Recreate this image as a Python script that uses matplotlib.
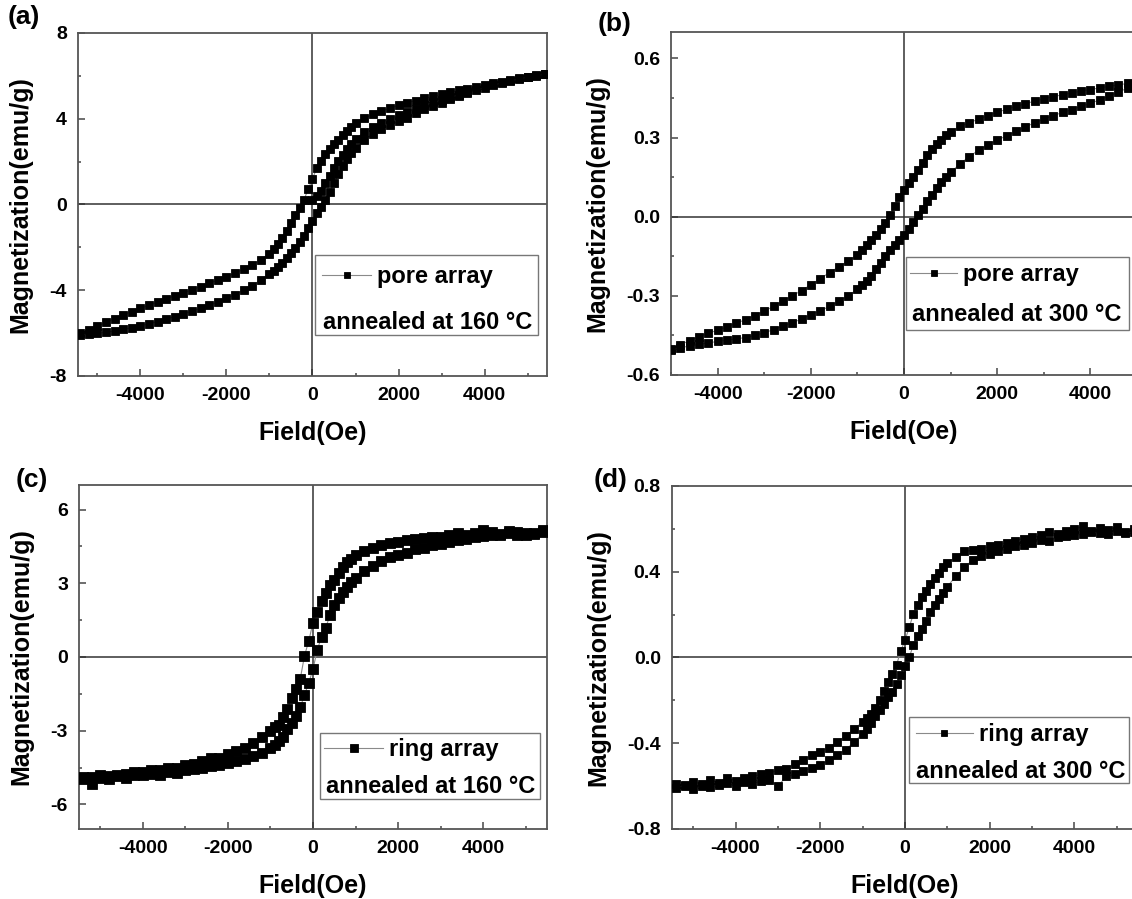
import matplotlib
matplotlib.use('Agg')
import matplotlib.pyplot as plt
from matplotlib.patches import Rectangle
from matplotlib.ticker import MultipleLocator, FormatStrFormatter

plt.rcParams['font.family'] = ['Liberation Sans', 'DejaVu Sans']
plt.rcParams['font.weight'] = 'bold'
plt.rcParams['axes.unicode_minus'] = False

# ---- field sweeps (Oe) ----
field_wide = [-5400, -5200, -5000, -4800, -4600, -4400, -4200, -4000, -3800, -3600,
              -3400, -3200, -3000, -2800, -2600, -2400, -2200, -2000, -1800, -1600,
              -1400, -1200, -1000, -900, -800, -700, -600, -500, -400, -300, -200,
              -100, 0, 100, 200, 300, 400, 500, 600, 700, 800, 900, 1000, 1200, 1400,
              1600, 1800, 2000, 2200, 2400, 2600, 2800, 3000, 3200, 3400, 3600, 3800,
              4000, 4200, 4400, 4600, 4800, 5000, 5200, 5400]
field_narrow = [-5000, -4800, -4600, -4400, -4200, -4000, -3800, -3600, -3400, -3200,
                -3000, -2800, -2600, -2400, -2200, -2000, -1800, -1600, -1400, -1200,
                -1000, -900, -800, -700, -600, -500, -400, -300, -200, -100, 0, 100,
                200, 300, 400, 500, 600, 700, 800, 900, 1000, 1200, 1400, 1600, 1800,
                2000, 2200, 2400, 2600, 2800, 3000, 3200, 3400, 3600, 3800, 4000, 4200,
                4400, 4600, 4800, 5000]
field_virgin_a = [0, 100, 200, 300, 400, 500, 600, 700, 800, 900, 1000, 1200, 1400,
                  1600, 1800, 2000, 2200, 2400, 2600, 2800, 3000, 3200, 3400, 3600]

# ---- (a) pore array, 160 C ----
m_a_down = [-6.00, -5.85, -5.68, -5.50, -5.32, -5.15, -5.00, -4.85, -4.70, -4.55,
            -4.40, -4.26, -4.12, -3.98, -3.83, -3.68, -3.53, -3.38, -3.20, -3.02,
            -2.82, -2.58, -2.30, -2.10, -1.85, -1.55, -1.22, -0.88, -0.50, -0.15,
            0.22, 0.70, 1.20, 1.70, 2.05, 2.35, 2.58, 2.80, 3.02, 3.25, 3.45, 3.62,
            3.78, 4.02, 4.20, 4.36, 4.50, 4.62, 4.74, 4.85, 4.95, 5.04, 5.14, 5.24,
            5.32, 5.41, 5.49, 5.57, 5.65, 5.73, 5.81, 5.89, 5.96, 6.03, 6.10]
m_a_up = [-6.08, -6.05, -6.01, -5.96, -5.90, -5.83, -5.75, -5.66, -5.57, -5.46,
          -5.35, -5.23, -5.10, -4.97, -4.84, -4.70, -4.55, -4.38, -4.20, -4.00,
          -3.78, -3.52, -3.25, -3.10, -2.92, -2.72, -2.50, -2.28, -2.03, -1.75,
          -1.48, -1.12, -0.75, -0.42, -0.12, 0.20, 0.58, 0.98, 1.40, 1.78, 2.10,
          2.38, 2.62, 3.00, 3.28, 3.50, 3.70, 3.88, 4.05, 4.25, 4.45, 4.60, 4.75,
          4.90, 5.05, 5.20, 5.33, 5.45, 5.57, 5.67, 5.77, 5.86, 5.94, 6.01, 6.08]
m_a_virgin = [0.20, 0.40, 0.65, 0.98, 1.35, 1.72, 2.03, 2.33, 2.60, 2.84, 3.05, 3.38,
              3.62, 3.82, 4.00, 4.16, 4.32, 4.47, 4.62, 4.76, 4.88, 5.00, 5.12, 5.24]

# ---- (b) pore array, 300 C ----
m_b_down = [-0.500, -0.485, -0.470, -0.455, -0.442, -0.430, -0.418, -0.404, -0.390,
            -0.375, -0.358, -0.340, -0.320, -0.300, -0.280, -0.258, -0.235, -0.212,
            -0.190, -0.168, -0.145, -0.128, -0.108, -0.088, -0.068, -0.048, -0.025,
            0.005, 0.040, 0.075, 0.102, 0.128, 0.152, 0.178, 0.205, 0.232, 0.256,
            0.276, 0.292, 0.308, 0.322, 0.342, 0.356, 0.370, 0.383, 0.396, 0.407,
            0.418, 0.428, 0.438, 0.447, 0.455, 0.462, 0.469, 0.476, 0.482, 0.488,
            0.494, 0.500, 0.505, 0.510]
m_b_up = [-0.505, -0.497, -0.490, -0.484, -0.478, -0.473, -0.468, -0.463, -0.458,
          -0.450, -0.440, -0.428, -0.415, -0.402, -0.388, -0.372, -0.357, -0.340,
          -0.320, -0.300, -0.275, -0.260, -0.243, -0.223, -0.200, -0.175, -0.150,
          -0.128, -0.108, -0.088, -0.068, -0.045, -0.020, 0.005, 0.030, 0.058, 0.083,
          0.108, 0.130, 0.150, 0.168, 0.200, 0.228, 0.252, 0.272, 0.290, 0.307,
          0.323, 0.340, 0.356, 0.370, 0.383, 0.395, 0.406, 0.418, 0.430, 0.443,
          0.457, 0.472, 0.488, 0.505]

# ---- (c) ring array, 160 C ----
m_c_down = [-4.88, -4.90, -4.82, -4.85, -4.80, -4.75, -4.68, -4.70, -4.62, -4.58,
            -4.52, -4.50, -4.40, -4.35, -4.25, -4.12, -4.10, -3.95, -3.82, -3.70,
            -3.50, -3.25, -3.00, -2.85, -2.75, -2.45, -2.10, -1.65, -1.30, -0.90,
            0.05, 0.65, 1.40, 1.85, 2.29, 2.60, 2.95, 3.15, 3.42, 3.65, 3.85, 4.00,
            4.15, 4.32, 4.45, 4.55, 4.65, 4.70, 4.75, 4.80, 4.85, 4.88, 4.90, 4.95,
            5.05, 4.98, 5.05, 5.15, 5.08, 5.02, 5.12, 5.10, 4.98, 5.05, 5.15]
m_c_up = [-4.95, -5.15, -4.92, -4.95, -4.85, -4.92, -4.80, -4.82, -4.78, -4.80,
          -4.70, -4.72, -4.62, -4.55, -4.50, -4.45, -4.40, -4.30, -4.25, -4.15,
          -4.05, -3.90, -3.72, -3.60, -3.42, -3.25, -2.95, -2.70, -2.40, -2.05,
          -1.55, -1.05, -0.50, 0.30, 0.80, 1.20, 1.70, 2.10, 2.40, 2.65, 2.85, 3.05,
          3.20, 3.50, 3.72, 3.90, 4.05, 4.15, 4.25, 4.38, 4.45, 4.55, 4.60, 4.68,
          4.75, 4.82, 4.88, 4.92, 4.98, 4.95, 5.05, 4.98, 5.05, 5.00, 5.10]

# ---- (d) ring array, 300 C ----
m_d_down = [-0.590, -0.600, -0.580, -0.590, -0.570, -0.585, -0.560, -0.575, -0.560,
            -0.555, -0.545, -0.540, -0.525, -0.520, -0.495, -0.480, -0.455, -0.440,
            -0.420, -0.395, -0.365, -0.335, -0.300, -0.280, -0.265, -0.235, -0.200,
            -0.155, -0.115, -0.075, -0.035, 0.030, 0.080, 0.140, 0.205, 0.245, 0.280,
            0.310, 0.345, 0.370, 0.395, 0.420, 0.440, 0.470, 0.495, 0.500, 0.505,
            0.518, 0.525, 0.535, 0.545, 0.555, 0.560, 0.570, 0.585, 0.575, 0.590,
            0.598, 0.612, 0.590, 0.605, 0.595, 0.610, 0.585, 0.600]
m_d_up = [-0.610, -0.595, -0.615, -0.600, -0.605, -0.595, -0.585, -0.600, -0.580,
          -0.590, -0.575, -0.570, -0.600, -0.555, -0.545, -0.530, -0.515, -0.500,
          -0.480, -0.455, -0.430, -0.395, -0.355, -0.335, -0.305, -0.275, -0.245,
          -0.215, -0.185, -0.160, -0.125, -0.080, -0.040, 0.000, 0.060, 0.100, 0.135,
          0.170, 0.210, 0.245, 0.275, 0.300, 0.330, 0.380, 0.420, 0.455, 0.475,
          0.485, 0.495, 0.505, 0.520, 0.525, 0.535, 0.550, 0.545, 0.560, 0.565,
          0.570, 0.575, 0.585, 0.580, 0.575, 0.590, 0.580, 0.585]

LINE_GRAY = '#8a8a8a'
FRAME = '#555555'


def plot_branch(ax, h, m, ms):
    line, = ax.plot(h, m, color=LINE_GRAY, lw=0.8, marker='s', ms=ms,
                    mfc='black', mec='black', mew=0.6, zorder=3)
    return line


def style_axes(ax, xlim, ylim, ymajor, yminor, yfmt):
    ax.set_xlim(*xlim)
    ax.set_ylim(*ylim)
    ax.axhline(0, color='#333333', lw=1.1, zorder=2)
    ax.axvline(0, color='#333333', lw=1.1, zorder=2)
    ax.xaxis.set_major_locator(MultipleLocator(2000))
    ax.xaxis.set_minor_locator(MultipleLocator(1000))
    ax.yaxis.set_major_locator(MultipleLocator(ymajor))
    ax.yaxis.set_minor_locator(MultipleLocator(yminor))
    ax.yaxis.set_major_formatter(FormatStrFormatter(yfmt))
    ax.tick_params(which='both', direction='in', top=False, right=False,
                   color=FRAME, width=1.2, labelsize=14)
    ax.tick_params(which='major', length=5, pad=8)
    ax.tick_params(which='minor', length=2.5)
    for lab in ax.get_xticklabels() + ax.get_yticklabels():
        lab.set_fontweight('bold')
    for sp in ax.spines.values():
        sp.set_color(FRAME)
        sp.set_linewidth(1.3)
    ax.set_xlabel('Field(Oe)', fontsize=18, fontweight='bold', labelpad=12)
    ax.set_ylabel('Magnetization(emu/g)', fontsize=18, fontweight='bold', labelpad=12)


def add_key(ax, handle, label, note, box, row1, row2, hlen):
    x0, y0, x1, y1 = box
    ax.add_patch(Rectangle((x0, y0), x1 - x0, y1 - y0, transform=ax.transAxes,
                           facecolor='white', edgecolor='#777777', lw=1.0,
                           zorder=5, clip_on=False))
    ax.legend([handle], [label], loc='center left', bbox_to_anchor=row1,
              frameon=False, prop={'size': 17, 'weight': 'bold'},
              handlelength=hlen, handletextpad=0.25, borderpad=0,
              borderaxespad=0, numpoints=1, markerscale=0.8).set_zorder(6)
    ax.text(row2[0], row2[1], note, transform=ax.transAxes, fontsize=17,
            fontweight='bold', va='center', ha='left', zorder=6)


fig = plt.figure(figsize=(11.32, 8.99), dpi=100)

ax_a = fig.add_axes([0.0689, 0.5818, 0.4143, 0.3815])
ax_b = fig.add_axes([0.5928, 0.5829, 0.4117, 0.3815])
ax_c = fig.add_axes([0.0698, 0.0779, 0.4134, 0.3826])
ax_d = fig.add_axes([0.5936, 0.0779, 0.4117, 0.3815])

# (a)
h_a = plot_branch(ax_a, field_wide, m_a_down, 5.5)
plot_branch(ax_a, field_wide, m_a_up, 5.5)
plot_branch(ax_a, field_virgin_a, m_a_virgin, 5.5)
style_axes(ax_a, (-5450, 5450), (-8, 8), 4, 2, '%d')
add_key(ax_a, h_a, 'pore array', 'annealed at 160 \u00b0C',
        (0.505, 0.120, 0.981, 0.353), (0.520, 0.289), (0.522, 0.157), 2.1)

# (b)
h_b = plot_branch(ax_b, field_narrow, m_b_down, 5.5)
plot_branch(ax_b, field_narrow, m_b_up, 5.5)
style_axes(ax_b, (-5000, 5000), (-0.6, 0.7), 0.3, 0.15, '%.1f')
add_key(ax_b, h_b, 'pore array', 'annealed at 300 \u00b0C',
        (0.504, 0.131, 0.983, 0.344), (0.513, 0.292), (0.517, 0.175), 2.0)

# (c)
h_c = plot_branch(ax_c, field_wide, m_c_down, 6.5)
plot_branch(ax_c, field_wide, m_c_up, 6.5)
style_axes(ax_c, (-5500, 5500), (-7, 7), 3, 1.5, '%d')
add_key(ax_c, h_c, 'ring array', 'annealed at 160 \u00b0C',
        (0.515, 0.087, 0.985, 0.279), (0.524, 0.230), (0.528, 0.123), 2.5)

# (d)
h_d = plot_branch(ax_d, field_wide, m_d_down, 6.0)
plot_branch(ax_d, field_wide, m_d_up, 6.0)
style_axes(ax_d, (-5500, 5500), (-0.8, 0.8), 0.4, 0.2, '%.1f')
add_key(ax_d, h_d, 'ring array', 'annealed at 300 \u00b0C',
        (0.509, 0.134, 0.981, 0.327), (0.524, 0.274), (0.524, 0.167), 2.4)

# panel letters
for x, y, tag in [(0.007, 0.994, '(a)'), (0.528, 0.987, '(b)'),
                  (0.014, 0.479, '(c)'), (0.524, 0.479, '(d)')]:
    fig.text(x, y, tag, fontsize=19, fontweight='bold', va='top', ha='left')

fig.savefig('out.png', dpi=100)
